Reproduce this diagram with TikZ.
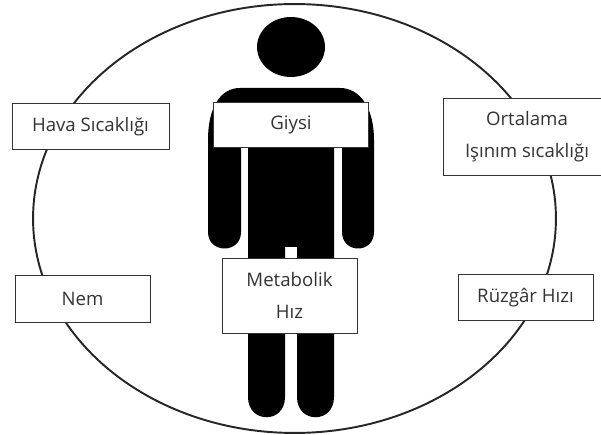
\documentclass[tikz,border=0pt]{standalone}
\usepackage{fontspec}
\setmainfont{Open Sans}
\usepackage{tikz}
\usetikzlibrary{positioning,calc,shapes.geometric}
\tikzset{
  % Base styles
  diagram base/.style={
    x=0.02cm,
    y=-0.02cm,
    every node/.style={font=\fontsize{10.6}{18}\selectfont, text=black!80},
  },
  % Comfort factor boxes
  factor box/.style={rectangle, draw=black!80, line width=0.55pt, fill=white, inner sep=0pt, align=center},
  small box/.style={factor box, minimum width=2.7cm, minimum height=0.93cm},
  wide box/.style={factor box, minimum width=3.12cm, minimum height=0.93cm},
  tall box/.style={factor box, minimum height=1.5cm},
  % Human figure
  person part/.style={fill=black, draw=none},
  % Surrounding ring
  ring line/.style={draw=black!85, line width=1.1pt},
}

\begin{document}
\begin{tikzpicture}[diagram base]
\useasboundingbox (0,0) rectangle (601,435);

% Ring around the person
\node[ring line, ellipse, inner sep=0pt, minimum width=10.46cm, minimum height=8.58cm] (ring) at (294.5,218.5) {};

% Head
\node[person part, ellipse, inner sep=0pt, minimum width=1.36cm, minimum height=1.2cm] (head) at (291,47) {};

% Body, arms and legs
\fill[person part] (240,88) -- (340,88)
  .. controls (360,88) and (374,108) .. (374,140) -- (374,232)
  .. controls (374,254) and (342,254) .. (342,232) -- (342,145) -- (334,145) -- (334,397)
  .. controls (334,424) and (297,424) .. (297,397) -- (297,247) -- (285,247) -- (285,397)
  .. controls (285,424) and (248,424) .. (248,397) -- (248,145) -- (241,145) -- (241,232)
  .. controls (241,254) and (208,254) .. (208,232) -- (208,140)
  .. controls (208,108) and (220,88) .. (240,88) -- cycle;

% Left column
\node[wide box, minimum width=3.14cm] (hava) at (90.5,126.5) {Hava Sıcaklığı};
\node[small box] (nem) at (82.5,299) {Nem};

% Middle column
\node[wide box, minimum width=3.09cm, minimum height=0.9cm] (giysi) at (291,124.5) {Giysi};
\node[tall box, minimum width=2.7cm] (metabolik) at (289.5,295.5) {Metabolik\\Hız};

% Right column, the big box runs off the page edge
\node[tall box, minimum width=3.36cm, minimum height=1.54cm] (ortalama) at (527,136.5) {Ortalama\\Işınım sıcaklığı};
\node[small box] (ruzgar) at (525.5,297.5) {Rüzgâr Hızı};
\end{tikzpicture}
\end{document}
